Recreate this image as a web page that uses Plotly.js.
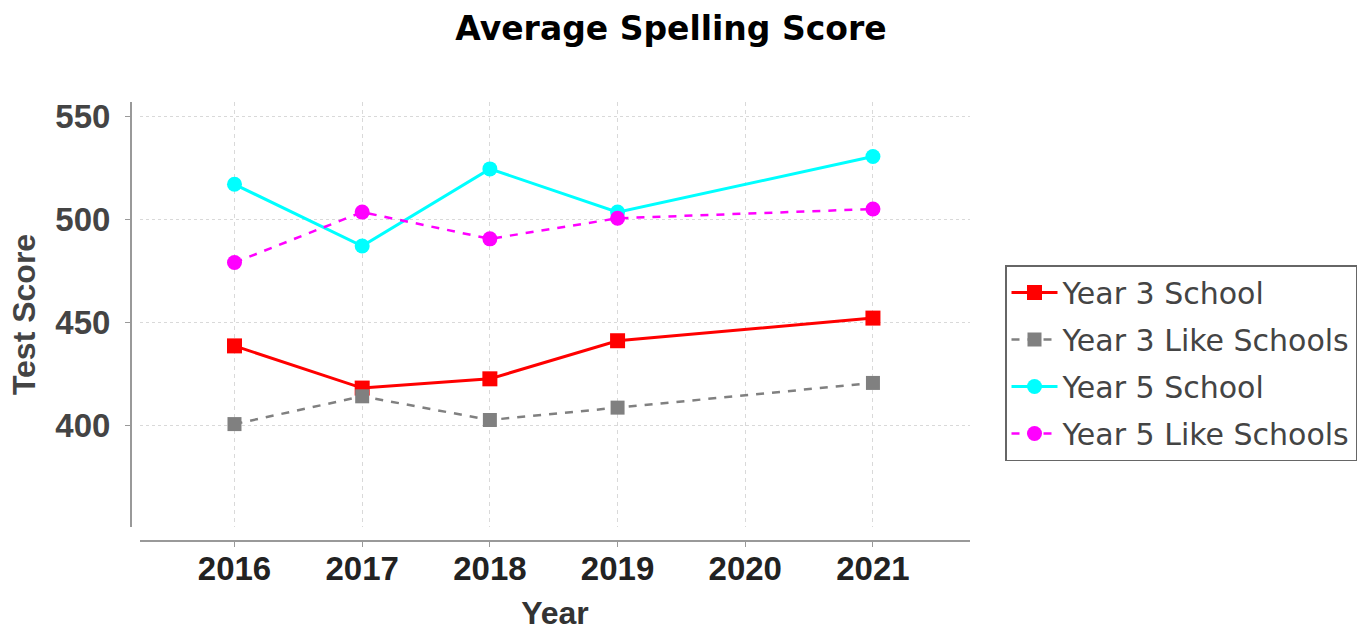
<!DOCTYPE html>
<html>
<head>
<meta charset="utf-8">
<script src="https://cdn.plot.ly/plotly-3.0.1.min.js"></script>
<style>html,body{margin:0;padding:0;background:#fff;}#chart{width:1371px;height:631px;}</style>
</head>
<body>
<div id="chart"></div>
<script>
// Data
var years = [2016, 2017, 2018, 2019, 2021];
var year3School = [438.5, 418, 422.5, 441, 452];
var year3Like = [400.5, 414, 402.5, 408.5, 420.5];
var year5School = [517, 487, 524.5, 503.5, 530.5];
var year5Like = [479, 503.5, 490.5, 500.5, 505];
var xTickVals = [2016, 2017, 2018, 2019, 2020, 2021];
var xTickText = ['2016', '2017', '2018', '2019', '2020', '2021'];
var yTickVals = [400, 450, 500, 550];
var yTickText = ['400', '450', '500', '550'];

var traces = [
  {x: years, y: year3School, name: 'Year 3 School', legendgroup: 'a', mode: 'lines+markers',
   line: {color: '#ff0000', width: 3}, marker: {symbol: 'square', size: 15, color: '#ff0000'}},
  {x: years, y: year3Like, name: 'Year 3 Like Schools', legendgroup: 'b', mode: 'lines+markers',
   line: {color: '#808080', width: 2.5, dash: '8px,8px'}, marker: {symbol: 'square', size: 14, color: '#808080'}},
  {x: years, y: year5School, name: 'Year 5 School', legendgroup: 'c', mode: 'lines+markers',
   line: {color: '#00ffff', width: 3}, marker: {symbol: 'circle', size: 15, color: '#00ffff'}},
  {x: years, y: year5Like, name: 'Year 5 Like Schools', legendgroup: 'd', mode: 'lines+markers',
   line: {color: '#ff00ff', width: 2.5, dash: '8px,8px'}, marker: {symbol: 'circle', size: 15, color: '#ff00ff'}}
];

var layout = {
  width: 1371, height: 631,
  margin: {l: 130, r: 401, t: 102, b: 91},
  paper_bgcolor: '#ffffff', plot_bgcolor: '#ffffff',
  title: {text: 'Average Spelling Score', x: 671/1371, xanchor: 'center', xref: 'container',
          y: 1 - 28/631, yanchor: 'middle', yref: 'container',
          font: {family: 'DejaVu Sans', size: 33, color: '#000', weight: 'bold'}},
  showlegend: true,
  legend: {x: (1005-130)/840, xanchor: 'left', y: (540-265)/438, yanchor: 'top',
           bordercolor: '#666', borderwidth: 1.5, bgcolor: '#fff',
           font: {family: 'DejaVu Sans', size: 30, color: '#444'},
           traceorder: 'grouped', tracegroupgap: 5, itemwidth: 46},
  xaxis: {domain: [10/840, 1], range: [2015.26, 2021.76], anchor: 'free', position: 0,
          tickvals: xTickVals, ticktext: xTickText,
          showline: true, linecolor: '#999', linewidth: 1.5,
          ticks: 'outside', ticklen: 5, tickcolor: '#999', tickwidth: 1,
          showgrid: true, gridcolor: '#d9d9d9', gridwidth: 1, griddash: '4px,4px',
          zeroline: false, ticklabelstandoff: -6,
          tickfont: {family: 'Liberation Sans', size: 33, color: '#222', weight: 'bold'},
          title: {text: 'Year', standoff: 18, font: {family: 'Liberation Sans', size: 32, color: '#333', weight: 'bold'}}},
  yaxis: {domain: [13/438, 1], range: [350.5, 557], anchor: 'free', position: 0,
          tickvals: yTickVals, ticktext: yTickText,
          showline: true, linecolor: '#999', linewidth: 1.5,
          ticks: 'outside', ticklen: 5, tickcolor: '#999', tickwidth: 1,
          showgrid: true, gridcolor: '#d9d9d9', gridwidth: 1, griddash: '3px,3px',
          zeroline: false, ticklabelstandoff: 8,
          tickfont: {family: 'Liberation Sans', size: 33, color: '#444', weight: 'bold'},
          title: {text: 'Test Score', standoff: 8, font: {family: 'Liberation Sans', size: 32, color: '#444', weight: 'bold'}}}
};

Plotly.newPlot('chart', traces, layout, {displayModeBar: false, staticPlot: true});
</script>
</body>
</html>
